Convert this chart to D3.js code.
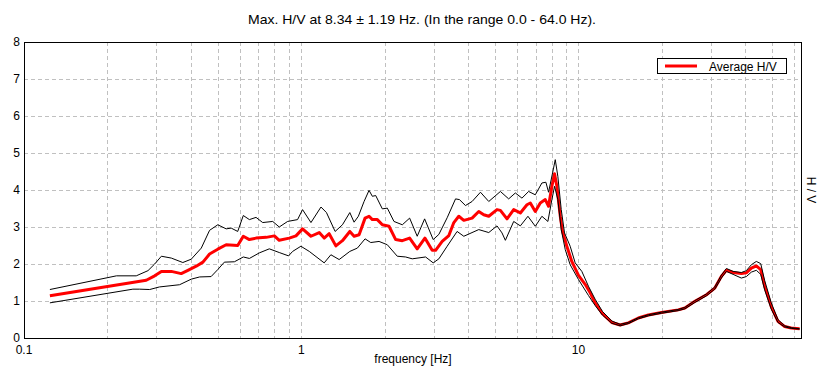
<!DOCTYPE html>
<html>
<head>
<meta charset="utf-8">
<script src="https://cdn.jsdelivr.net/npm/d3@7"></script>
<style>
  html, body { margin: 0; padding: 0; background: #ffffff; }
  svg { display: block; font-family: "Liberation Sans", Arial, sans-serif; }
</style>
</head>
<body>
<svg id="chart" width="826" height="381"></svg>
<script>
// ---------------- data ----------------
const titleText = "Max. H/V at 8.34 ± 1.19 Hz. (In the range 0.0 - 64.0 Hz).";
const xLabel = "frequency [Hz]";
const yLabel = "H / V";
const legendLabel = "Average H/V";

const xTickLabels = [0.1, 1, 10];
const yTickLabels = [0, 1, 2, 3, 4, 5, 6, 7, 8];
const xGridValues = [0.2, 0.3, 0.4, 0.5, 0.6, 0.7, 0.8, 0.9, 1, 2, 3, 4, 5, 6, 7, 8, 9, 10, 20, 30, 40, 50, 60];
const yGridValues = [1, 2, 3, 4, 5, 6, 7];

const freqAvg = [0.124, 0.276, 0.296, 0.313, 0.340, 0.369, 0.390, 0.418, 0.442, 0.467,
  0.500, 0.536, 0.590, 0.618, 0.650, 0.687, 0.747, 0.800, 0.833, 0.905,
  0.957, 1.011, 1.084, 1.161, 1.21, 1.261, 1.333, 1.408, 1.497, 1.551,
  1.617, 1.699, 1.756, 1.805, 1.881, 1.961, 2.073, 2.191, 2.315, 2.460,
  2.62, 2.793, 2.967, 3.052, 3.223, 3.407, 3.551, 3.700, 3.858, 4.133,
  4.368, 4.553, 4.746, 5.083, 5.228, 5.523, 5.838, 6.17, 6.518, 6.703,
  6.985, 7.281, 7.589, 7.799, 8.017, 8.197, 8.356, 8.597, 8.758, 9.077,
  9.46, 10.0, 10.57, 11.02, 11.48, 12.2, 13.18, 14.13, 15.13, 16.44,
  17.86, 19.93, 22.89, 24.2, 26.29, 28.94, 31.02, 32.77, 34.16, 36.11,
  38.67, 40.31, 42.02, 43.8, 45.42, 46.95, 49.58, 52.42, 55.4, 58.53, 62.74];
const avgHV = [1.14, 1.56, 1.68, 1.80, 1.80, 1.74, 1.83, 1.94, 2.05, 2.27,
  2.40, 2.52, 2.50, 2.75, 2.66, 2.70, 2.72, 2.76, 2.64, 2.70,
  2.76, 2.95, 2.75, 2.85, 2.70, 2.82, 2.49, 2.63, 2.88, 2.75,
  2.79, 3.24, 3.29, 3.20, 3.20, 3.06, 3.02, 2.66, 2.63, 2.70,
  2.41, 2.70, 2.37, 2.37, 2.61, 2.77, 3.12, 3.29, 3.18, 3.24,
  3.42, 3.33, 3.29, 3.47, 3.45, 3.22, 3.47, 3.38, 3.60, 3.65,
  3.42, 3.65, 3.74, 3.56, 4.10, 4.44, 4.10, 3.29, 2.88, 2.48,
  2.07, 1.69, 1.45, 1.22, 0.95, 0.66, 0.42, 0.35, 0.41, 0.54,
  0.62, 0.69, 0.76, 0.81, 0.99, 1.17, 1.35, 1.67, 1.83, 1.77,
  1.74, 1.76, 1.89, 1.95, 1.85, 1.40, 0.85, 0.45, 0.31, 0.27, 0.25];

const freqUpper = [0.124, 0.2155, 0.254, 0.280, 0.296, 0.313, 0.340, 0.374, 0.401, 0.436,
  0.467, 0.500, 0.536, 0.559, 0.590, 0.618, 0.650, 0.687, 0.726, 0.789,
  0.833, 0.893, 0.970, 1.011, 1.084, 1.178, 1.233, 1.325, 1.408, 1.497,
  1.551, 1.607, 1.685, 1.756, 1.805, 1.856, 1.961, 2.044, 2.160, 2.315,
  2.460, 2.62, 2.786, 2.992, 3.136, 3.360, 3.602, 3.722, 3.912, 4.133,
  4.430, 4.746, 5.228, 5.600, 5.919, 6.252, 6.609, 6.985, 7.379, 7.628,
  7.799, 8.063, 8.245, 8.424, 8.665, 8.905, 9.333, 9.730, 10.28, 10.86,
  11.48, 12.2, 13.18, 14.13, 15.13, 16.44, 17.86, 19.93, 22.89, 24.2,
  26.29, 28.94, 31.02, 32.77, 34.16, 36.11, 38.67, 40.31, 42.02, 43.8,
  45.42, 46.95, 49.58, 52.42, 55.4, 58.53, 62.74];
const upperHV = [1.31, 1.68, 1.68, 1.82, 2.0, 2.21, 2.16, 2.04, 2.13, 2.43,
  2.91, 3.06, 2.95, 2.97, 2.88, 3.31, 3.20, 3.26, 3.12, 3.15,
  3.0, 3.15, 3.20, 3.47, 3.12, 3.54, 3.39, 2.88, 3.06, 3.39,
  3.13, 3.29, 3.69, 3.99, 3.83, 3.85, 3.49, 3.51, 3.15, 3.06,
  3.24, 2.75, 3.22, 2.66, 2.80, 3.25, 3.76, 3.74, 3.58, 3.69,
  3.94, 3.69, 3.96, 3.76, 3.92, 3.78, 3.96, 3.87, 4.19, 4.21,
  3.94, 4.46, 4.82, 4.37, 3.47, 2.84, 2.48, 2.03, 1.80, 1.40,
  1.05, 0.72, 0.46, 0.37, 0.42, 0.55, 0.63, 0.70, 0.77, 0.83,
  1.01, 1.19, 1.38, 1.70, 1.88, 1.80, 1.77, 1.82, 1.98, 2.07,
  2.01, 1.55, 0.95, 0.50, 0.33, 0.28, 0.25];

const freqLower = [0.124, 0.247, 0.261, 0.284, 0.308, 0.364, 0.401, 0.430, 0.473, 0.500,
  0.528, 0.574, 0.618, 0.650, 0.706, 0.767, 0.833, 0.900, 0.931, 0.997,
  1.069, 1.21, 1.279, 1.370, 1.497, 1.594, 1.699, 1.781, 1.908, 2.044,
  2.220, 2.380, 2.514, 2.809, 2.992, 3.136, 3.360, 3.649, 3.858, 4.368,
  4.746, 5.083, 5.298, 5.448, 5.838, 6.17, 6.571, 6.985, 7.379, 7.755,
  8.017, 8.197, 8.424, 8.665, 8.958, 9.333, 10.0, 10.86, 11.48, 12.2,
  13.18, 14.13, 15.13, 16.44, 17.86, 19.93, 22.89, 24.2, 26.29, 28.94,
  31.02, 32.77, 34.16, 36.11, 38.67, 40.31, 42.02, 43.8, 45.42, 46.95,
  49.58, 52.42, 55.4, 58.53, 62.74];
const lowerHV = [0.95, 1.32, 1.32, 1.31, 1.38, 1.44, 1.59, 1.65, 1.66, 1.85,
  2.05, 2.06, 2.19, 2.15, 2.30, 2.41, 2.31, 2.22, 2.34, 2.48,
  2.34, 2.03, 2.25, 2.12, 2.34, 2.43, 2.68, 2.58, 2.61, 2.52,
  2.21, 2.19, 2.14, 2.19, 2.03, 2.14, 2.48, 2.88, 2.75, 2.93,
  2.85, 3.03, 2.84, 2.64, 3.15, 3.03, 3.29, 3.02, 3.29, 3.15,
  3.74, 4.10, 3.74, 2.93, 2.39, 1.98, 1.58, 1.15, 0.88, 0.62,
  0.40, 0.33, 0.39, 0.52, 0.60, 0.67, 0.74, 0.79, 0.96, 1.14,
  1.32, 1.62, 1.80, 1.72, 1.62, 1.66, 1.78, 1.83, 1.72, 1.30,
  0.78, 0.42, 0.30, 0.26, 0.24];

// ---------------- layout ----------------
const svg = d3.select("#chart");
const plot = { left: 24, right: 802, top: 42, bottom: 338 };

const x = d3.scaleLog().domain([0.1, 64]).range([plot.left, plot.right]);
const y = d3.scaleLinear().domain([0, 8]).range([plot.bottom, plot.top]);

svg.append("rect").attr("width", 826).attr("height", 381).attr("fill", "#ffffff");

// grid
const grid = svg.append("g").attr("stroke", "#c0c0c0").attr("stroke-width", 1)
  .attr("stroke-dasharray", "4,3").attr("shape-rendering", "crispEdges");
grid.selectAll("line.v").data(xGridValues).join("line")
  .attr("x1", d => Math.round(x(d)) + 0.5).attr("x2", d => Math.round(x(d)) + 0.5)
  .attr("y1", plot.top).attr("y2", plot.bottom);
grid.selectAll("line.h").data(yGridValues).join("line")
  .attr("x1", plot.left).attr("x2", plot.right)
  .attr("y1", d => Math.round(y(d)) + 0.5).attr("y2", d => Math.round(y(d)) + 0.5);

// curves
const line = d3.line().x(d => x(d[0])).y(d => y(d[1]));
const zip = (fs, vs) => fs.map((f, i) => [f, vs[i]]);

svg.append("clipPath").attr("id", "clip").append("rect")
  .attr("x", plot.left).attr("y", plot.top)
  .attr("width", plot.right - plot.left).attr("height", plot.bottom - plot.top);

const curves = svg.append("g").attr("clip-path", "url(#clip)");
curves.append("path").datum(zip(freqAvg, avgHV)).attr("d", line)
  .attr("fill", "none").attr("stroke", "#ff0000").attr("stroke-width", 3)
  .attr("stroke-linejoin", "round");
curves.append("path").datum(zip(freqUpper, upperHV)).attr("d", line)
  .attr("fill", "none").attr("stroke", "#000000").attr("stroke-width", 1);
curves.append("path").datum(zip(freqLower, lowerHV)).attr("d", line)
  .attr("fill", "none").attr("stroke", "#000000").attr("stroke-width", 1);

// frame
svg.append("rect")
  .attr("x", plot.left + 0.5).attr("y", plot.top + 0.5)
  .attr("width", plot.right - plot.left - 1).attr("height", plot.bottom - plot.top)
  .attr("fill", "none").attr("stroke", "#000000").attr("stroke-width", 1)
  .attr("shape-rendering", "crispEdges");

// axis labels
svg.append("g").selectAll("text").data(yTickLabels).join("text")
  .attr("x", 20).attr("y", d => y(d) + 4)
  .attr("text-anchor", "end").attr("font-size", 12).attr("fill", "#000")
  .text(d => d);
svg.append("g").selectAll("text").data(xTickLabels).join("text")
  .attr("x", d => x(d)).attr("y", 354)
  .attr("text-anchor", "middle").attr("font-size", 12).attr("fill", "#000")
  .text(d => d);

svg.append("text").attr("x", 422).attr("y", 24).attr("text-anchor", "middle")
  .attr("font-size", 13).attr("textLength", 348).attr("lengthAdjust", "spacingAndGlyphs")
  .attr("fill", "#000").text(titleText);
svg.append("text").attr("x", 413).attr("y", 363).attr("text-anchor", "middle")
  .attr("font-size", 12).attr("fill", "#000").text(xLabel);
svg.append("text").attr("transform", "translate(807,190) rotate(90)")
  .attr("text-anchor", "middle").attr("font-size", 12).attr("fill", "#000").text(yLabel);

// legend
const lg = svg.append("g");
lg.append("rect").attr("x", 657.5).attr("y", 58.5).attr("width", 129).attr("height", 15)
  .attr("fill", "#ffffff").attr("stroke", "#000").attr("stroke-width", 1)
  .attr("shape-rendering", "crispEdges");
lg.append("line").attr("x1", 665).attr("x2", 697).attr("y1", 66).attr("y2", 66)
  .attr("stroke", "#ff0000").attr("stroke-width", 3);
lg.append("text").attr("x", 709).attr("y", 70.5).attr("font-size", 12).attr("fill", "#000")
  .text(legendLabel);
</script>
</body>
</html>
